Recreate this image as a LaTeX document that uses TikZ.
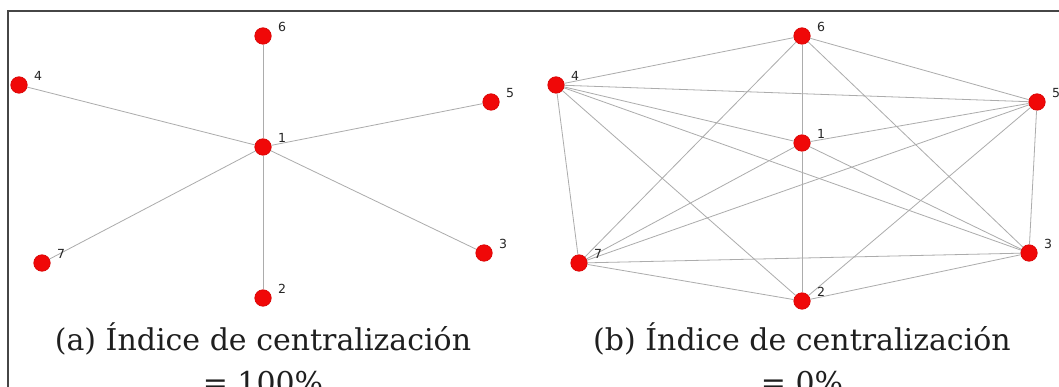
\documentclass[tikz,border=0pt]{standalone}
\usepackage{fontspec}
\newfontfamily\labfont{DejaVu Sans}
\newfontfamily\capfont{DejaVu Serif}
\definecolor{nodered}{RGB}{240,8,8}
\definecolor{nodeedge}{RGB}{215,0,0}
\definecolor{edgegray}{RGB}{172,172,172}
\definecolor{framegray}{RGB}{70,70,70}
\begin{document}
\begin{tikzpicture}[x=1pt,y=-1pt,
  vert/.style={circle,fill=nodered,draw=nodeedge,line width=0.6pt,minimum size=16.5pt,inner sep=0pt},
  lab/.style={font=\labfont\fontsize{12.5}{14}\selectfont,text=black!85,inner sep=0pt},
  edge/.style={draw=edgegray,line width=0.8pt},
  captext/.style={font=\capfont\fontsize{30}{36}\selectfont,anchor=base,inner sep=0pt,text=black!88}]
\useasboundingbox (0,0) rectangle (1059,387);
\fill[white] (0,0) rectangle (1059,387);
\draw[framegray,line width=2pt] (7.5,390) -- (7.5,11.5) -- (1062,11.5);

% left panel nodes
\node[vert] (L6) at (263,36) {};
\node[vert] (L4) at (19,85) {};
\node[vert] (L5) at (491,102) {};
\node[vert] (L1) at (263,147) {};
\node[vert] (L7) at (42,263) {};
\node[vert] (L3) at (484,253) {};
\node[vert] (L2) at (263,298) {};
% right panel nodes
\node[vert] (R6) at (802,36) {};
\node[vert] (R4) at (556,85) {};
\node[vert] (R5) at (1037,102) {};
\node[vert] (R1) at (802,143) {};
\node[vert] (R7) at (579,263) {};
\node[vert] (R3) at (1029,253) {};
\node[vert] (R2) at (802,301) {};

% edges
\foreach \a in {L2,L3,L4,L5,L6,L7} \draw[edge] (L1) -- (\a);
\foreach \a/\b in {R1/R2,R1/R3,R1/R4,R1/R5,R1/R6,R1/R7,
                   R2/R3,R2/R4,R2/R5,R2/R7,
                   R3/R4,R3/R5,R3/R6,R3/R7,
                   R4/R5,R4/R6,R4/R7,
                   R5/R6,R5/R7,
                   R6/R7}
  \draw[edge] (\a) -- (\b);

% labels
\foreach \n/\t in {L1/1,L2/2,L3/3,L4/4,L5/5,L6/6,L7/7,R1/1,R2/2,R3/3,R4/4,R5/5,R6/6,R7/7}
  \node[lab] (t\n) at ([shift={(19,-9)}]\n.center) {\t};

% captions
\node[captext] (capa1) at (263,350) {(a) Índice de centralización};
\node[captext] (capa2) at (263,393) {= 100\%};
\node[captext] (capb1) at (802,350) {(b) Índice de centralización};
\node[captext] (capb2) at (802,393) {= 0\%};
\end{tikzpicture}
\end{document}
